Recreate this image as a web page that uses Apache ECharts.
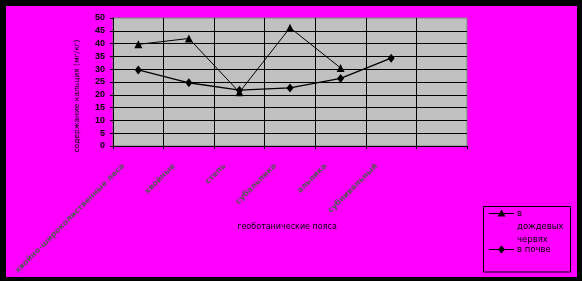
<!DOCTYPE html>
<html><head><meta charset="utf-8">
<script src="https://cdn.jsdelivr.net/npm/echarts@6/dist/echarts.min.js"></script>
<style>html,body{margin:0;padding:0;background:#ff00ff}#c{width:582px;height:281px}</style>
</head><body><div id="c"></div>
<script>
var categories = ['хвойно-широколиственные леса', 'хвойные', 'степь', 'субальпика', 'альпика', 'субнивальный', ''];
var earthworms = [39.7, 42.0, 21.0, 46.2, 30.5, null, null];
var soil = [29.7, 24.7, 21.8, 22.7, 26.4, 34.3, null];
var yTicks = {min: 0, max: 50, interval: 5};
var seriesNames = ['в дождевых червях', 'в почве'];
var xTitle = 'геоботанические пояса';
var yTitle = 'содержание кальция (мг/кг)';

var chart = echarts.init(document.getElementById('c'), null, {renderer: 'canvas'});
chart.setOption({
  backgroundColor: '#ff00ff',
  animation: false,
  grid: {left: 113, right: 115, top: 18, bottom: 135, show: true, backgroundColor: '#c0c0c0', borderColor: '#808080', borderWidth: 1},
  xAxis: {
    type: 'category', data: categories, boundaryGap: true,
    axisLine: {lineStyle: {color: '#000', width: 1}},
    axisTick: {show: true, length: 3, lineStyle: {color: '#000'}},
    splitLine: {show: true, showMaxLine: false, lineStyle: {color: '#000', width: 1}},
    axisLabel: {interval: 0, rotate: 45, margin: 4, padding: [0, 21, 0, 0], color: '#555', fontFamily: 'DejaVu Sans', fontSize: 8, fontWeight: 'bold'}
  },
  yAxis: {
    type: 'value', min: yTicks.min, max: yTicks.max, interval: yTicks.interval,
    axisLine: {show: true, lineStyle: {color: '#000', width: 1}},
    axisTick: {show: true, length: 3, lineStyle: {color: '#000'}},
    splitLine: {show: true, showMaxLine: false, lineStyle: {color: '#000', width: 1}},
    axisLabel: {margin: 8, color: '#000', fontFamily: 'Liberation Sans', fontSize: 9, fontWeight: 'bold'}
  },
  graphic: [
    {type: 'rect', shape: {x: 0, y: 0, width: 582, height: 6}, style: {fill: '#000'}, silent: true},
    {type: 'rect', shape: {x: 0, y: 0, width: 6, height: 281}, style: {fill: '#000'}, silent: true},
    {type: 'rect', shape: {x: 577, y: 0, width: 5, height: 281}, style: {fill: '#000'}, silent: true},
    {type: 'rect', shape: {x: 0, y: 277, width: 582, height: 4}, style: {fill: '#000'}, silent: true},
    {type: 'text', x: 77, y: 96, rotation: Math.PI / 2, style: {text: yTitle, fill: '#000', font: '7.5px "DejaVu Sans"', align: 'center', verticalAlign: 'middle'}},
    {type: 'text', x: 287, y: 227, style: {text: xTitle, fill: '#000', font: '8px "DejaVu Sans"', align: 'center', verticalAlign: 'middle'}},
    {type: 'rect', shape: {x: 483.5, y: 206.5, width: 87, height: 65.5}, style: {fill: 'none', stroke: '#000', lineWidth: 1}},
    {type: 'line', shape: {x1: 489, y1: 213.5, x2: 514, y2: 213.5}, style: {stroke: '#000', lineWidth: 1}},
    {type: 'polygon', shape: {points: [[501.5, 209.5], [505.5, 216.5], [497.5, 216.5]]}, style: {fill: '#000'}},
    {type: 'line', shape: {x1: 489, y1: 249.5, x2: 514, y2: 249.5}, style: {stroke: '#000', lineWidth: 1}},
    {type: 'polygon', shape: {points: [[501.5, 245.5], [505, 249.5], [501.5, 253.5], [498, 249.5]]}, style: {fill: '#000'}},
    {type: 'text', x: 517, y: 213.5, style: {text: 'в', fill: '#000', font: '8.5px "DejaVu Sans"', verticalAlign: 'middle'}},
    {type: 'text', x: 517, y: 227, style: {text: 'дождевых', fill: '#000', font: '8.5px "DejaVu Sans"', verticalAlign: 'middle'}},
    {type: 'text', x: 517, y: 240, style: {text: 'червях', fill: '#000', font: '8.5px "DejaVu Sans"', verticalAlign: 'middle'}},
    {type: 'text', x: 517, y: 249.5, style: {text: 'в почве', fill: '#000', font: '8.5px "DejaVu Sans"', verticalAlign: 'middle'}}
  ],
  series: [
    {name: seriesNames[0], type: 'line', data: earthworms, symbol: 'triangle', symbolSize: 8, connectNulls: false,
     lineStyle: {color: '#000', width: 1}, itemStyle: {color: '#000'}},
    {name: seriesNames[1], type: 'line', data: soil, symbol: 'diamond', symbolSize: [7, 9],
     lineStyle: {color: '#000', width: 1.3}, itemStyle: {color: '#000'}}
  ]
});
</script></body></html>
